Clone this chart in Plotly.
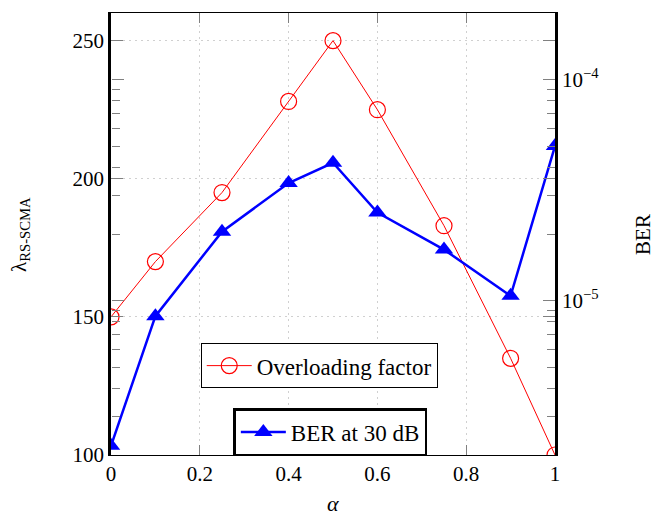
import plotly.graph_objects as go
import math

alpha = [0, 0.1, 0.25, 0.4, 0.5, 0.6, 0.75, 0.9, 1.0]
overloading = [150, 170, 195, 228, 250, 225, 183, 135, 100]
ber_30db = [2.2e-6, 8.5e-6, 2.05e-5, 3.4e-5, 4.2e-5, 2.5e-5, 1.7e-5, 1.05e-5, 5.0e-5]

x_ticks = [0, 0.2, 0.4, 0.6, 0.8, 1]
x_ticktext = ["0", "0.2", "0.4", "0.6", "0.8", "1"]
left_ticks = [100, 150, 200, 250]
right_ticks = [1e-5, 1e-4]
right_ticktext = ["10<sup>−5</sup>", "10<sup>−4</sup>"]
right_minor = [2e-6, 3e-6, 4e-6, 5e-6, 6e-6, 7e-6, 8e-6, 9e-6,
               2e-5, 3e-5, 4e-5, 5e-5, 6e-5, 7e-5, 8e-5, 9e-5, 2e-4]

FONT = "Liberation Serif"
TICKC = "#808080"
GRIDC = "#d0d0d0"
LOGRANGE = [math.log10(2e-6), math.log10(2e-4)]

fig = go.Figure()
# invisible helper trace so the mirrored log ticks on the left are drawn
fig.add_trace(go.Scatter(
    x=alpha, y=ber_30db, mode="markers", yaxis="y3",
    marker=dict(opacity=0), showlegend=False, hoverinfo="skip"))
fig.add_trace(go.Scatter(
    x=alpha, y=overloading, mode="lines+markers", name="Overloading factor",
    line=dict(color="#ff0000", width=1),
    marker=dict(symbol="circle-open", size=16, color="#ff0000", line=dict(width=1.2)),
    legend="legend", yaxis="y", showlegend=True))
fig.add_trace(go.Scatter(
    x=alpha, y=ber_30db, mode="lines+markers", name="BER at 30 dB",
    line=dict(color="#0000ff", width=2.5),
    marker=dict(symbol="triangle-up", size=16, color="#0000ff"),
    legend="legend2", yaxis="y2", showlegend=True))

fig.update_layout(
    width=655, height=517,
    margin=dict(l=111, r=100, t=13, b=62),
    paper_bgcolor="white", plot_bgcolor="white",
    font=dict(family=FONT, size=21, color="black"),
    showlegend=True,
    xaxis=dict(
        range=[0, 1], tickvals=x_ticks, ticktext=x_ticktext, automargin=False,
        showgrid=True, gridcolor=GRIDC, griddash="2px,4px", gridwidth=1,
        zeroline=False, showline=True, linecolor="black", linewidth=1,
        mirror="ticks", ticks="inside", ticklen=10, tickcolor=TICKC,
        tickfont=dict(size=21),
    ),
    yaxis=dict(
        range=[100, 260], tickvals=left_ticks, automargin=False,
        showgrid=True, gridcolor=GRIDC, griddash="2px,4px", gridwidth=1,
        zeroline=False, showline=True, linecolor="black", linewidth=2.5,
        mirror="ticks", ticks="inside", ticklen=12, tickcolor=TICKC,
        tickfont=dict(size=21),
    ),
    yaxis2=dict(
        type="log", overlaying="y", side="right", anchor="x", automargin=False,
        range=LOGRANGE,
        tickvals=right_ticks, ticktext=right_ticktext,
        showgrid=False, zeroline=False, showline=True, linecolor="black", linewidth=2.5,
        ticks="inside", ticklen=12, tickcolor=TICKC,
        minor=dict(tickvals=right_minor, ticks="inside", ticklen=8, tickcolor=TICKC, showgrid=False),
        tickfont=dict(size=21),
    ),
    yaxis3=dict(
        type="log", overlaying="y", side="left", anchor="free", position=0, automargin=False,
        range=LOGRANGE,
        tickvals=right_ticks, ticktext=["", ""], showticklabels=True,
        showgrid=False, zeroline=False, showline=False,
        ticks="inside", ticklen=12, tickcolor=TICKC, tickwidth=1,
        minor=dict(tickvals=right_minor, ticks="inside", ticklen=8, tickcolor=TICKC,
                   tickwidth=1, showgrid=False),
    ),
    legend=dict(
        x=0.469, y=0.253, xanchor="center", yanchor="top",
        bordercolor="black", borderwidth=1, bgcolor="white",
        font=dict(size=23), itemwidth=45,
    ),
    legend2=dict(
        x=0.494, y=0.106, xanchor="center", yanchor="top",
        bordercolor="black", borderwidth=2.5, bgcolor="white",
        font=dict(size=23), itemwidth=45,
    ),
    annotations=[
        dict(text="λ<sub>RS-SCMA</sub>", xref="paper", yref="paper", x=-0.205, y=0.5,
             textangle=-90, showarrow=False, font=dict(size=21), xanchor="center", yanchor="middle"),
        dict(text="BER", xref="paper", yref="paper", x=1.198, y=0.5,
             textangle=-90, showarrow=False, font=dict(size=21), xanchor="center", yanchor="middle"),
        dict(text="<i>α</i>", xref="paper", yref="paper", x=0.5, y=-0.11,
             showarrow=False, font=dict(size=22), xanchor="center", yanchor="middle"),
    ],
)

fig.write_html("out.html")
